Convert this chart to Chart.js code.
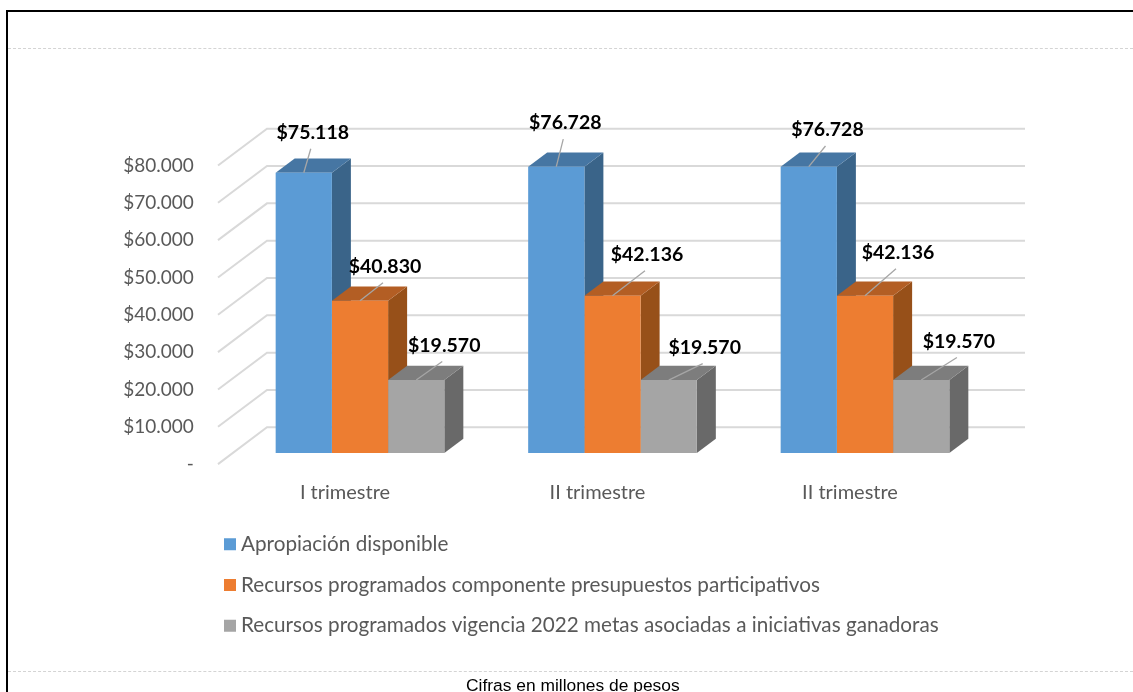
<!DOCTYPE html>
<html lang="es">
<head>
<meta charset="utf-8">
<title>Recursos por trimestre</title>
<script src="https://cdn.jsdelivr.net/npm/chart.js@4/dist/chart.umd.min.js"></script>
<style>
  html, body { margin: 0; padding: 0; background: #fff; overflow: hidden; }
  #page { position: relative; width: 1133px; height: 692px; overflow: hidden; }
  canvas { position: absolute; left: 0; top: 0; }
  .frame-top { position: absolute; left: 6px; right: 0; top: 10px; height: 2px; background: #000; }
  .frame-left { position: absolute; left: 6px; top: 10px; bottom: 0; width: 2px; background: #000; }
  .dash { position: absolute; left: 8px; right: 0; height: 0; border-top: 1px dashed #d4d4d4; }
  .note { position: absolute; left: 466px; top: 675px; white-space: nowrap;
          font: 17.4px "Liberation Sans", Arial, sans-serif; color: #000; }
</style>
</head>
<body>
<div id="page">
  <canvas id="chart" width="1133" height="692"></canvas>
  <div class="frame-top"></div>
  <div class="frame-left"></div>
  <div class="dash" style="top:48px"></div>
  <div class="dash" style="top:671px"></div>
  <div class="note">Cifras en millones de pesos</div>
</div>
<script>
const categories = ['I trimestre', 'II trimestre', 'II trimestre'];
const apropiacion = [75118, 76728, 76728];
const presupuestos = [40830, 42136, 42136];
const vigencia = [19570, 19570, 19570];
const yTickLabels = ['-', '$10.000', '$20.000', '$30.000', '$40.000', '$50.000', '$60.000', '$70.000', '$80.000'];
const valueLabels = [
  ['$75.118', '$76.728', '$76.728'],
  ['$40.830', '$42.136', '$42.136'],
  ['$19.570', '$19.570', '$19.570']
];

// donde queda cada etiqueta respecto al centro superior de su barra
const labelOffsets = [
  [[9, -40], [9, -43.5], [18.7, -36.7]],
  [[25, -34], [34.5, -41], [33, -43]],
  [[28, -34.5], [36, -32.5], [37.7, -38.5]]
];

const FONT = 'Lato, Carlito, Calibri, sans-serif';
const DEPTH_X = 19, DEPTH_Y = 14.3;
const LEGEND_LEFT = 209.35;

// Caras laterales y superiores de las barras (falso 3D).
// Se pintan antes que los frentes y de izquierda a derecha para que se tapen bien.
const bars3d = {
  id: 'bars3d',
  beforeDatasetsDraw(chart) {
    const ctx = chart.ctx;
    chart.data.datasets.forEach((ds, i) => {
      chart.getDatasetMeta(i).data.forEach(bar => {
        const l = bar.x - bar.width / 2, r = bar.x + bar.width / 2;
        const t = bar.y, b = bar.base;
        ctx.fillStyle = ds.sideColor;
        ctx.beginPath();
        ctx.moveTo(r, t);
        ctx.lineTo(r + DEPTH_X, t - DEPTH_Y);
        ctx.lineTo(r + DEPTH_X, b - DEPTH_Y);
        ctx.lineTo(r, b);
        ctx.closePath();
        ctx.fill();
        ctx.fillStyle = ds.topColor;
        ctx.beginPath();
        ctx.moveTo(l, t);
        ctx.lineTo(l + DEPTH_X, t - DEPTH_Y);
        ctx.lineTo(r + DEPTH_X, t - DEPTH_Y);
        ctx.lineTo(r, t);
        ctx.closePath();
        ctx.fill();
      });
    });
  }
};

// Rejilla de pared + piso inclinado
const wallGrid = {
  id: 'wallGrid',
  // la leyenda va debajo del gráfico, no pegada al margen del eje
  afterLayout(chart) {
    chart.legend.left = LEGEND_LEFT;
  },
  beforeDatasetsDraw(chart) {
    const ctx = chart.ctx, y = chart.scales.y, area = chart.chartArea;
    ctx.save();
    ctx.strokeStyle = '#d9d9d9';
    ctx.lineWidth = 2;
    y.ticks.forEach(tick => {
      const py = y.getPixelForValue(tick.value);
      ctx.beginPath();
      ctx.moveTo(area.left - 15.75, py + 11);
      ctx.lineTo(area.left + 33.25, py - 25.8);
      ctx.lineTo(area.right + 33.75, py - 25.8);
      ctx.stroke();
    });
    ctx.restore();
  }
};

// Etiquetas de valor con su línea guía
const valueTags = {
  id: 'valueTags',
  afterDatasetsDraw(chart) {
    const ctx = chart.ctx;
    ctx.save();
    ctx.font = 'bold 19.5px ' + FONT;
    ctx.textAlign = 'center';
    ctx.textBaseline = 'middle';
    chart.data.datasets.forEach((ds, i) => {
      chart.getDatasetMeta(i).data.forEach((bar, j) => {
        const [dx, dy] = labelOffsets[i][j];
        const tx = bar.x + dx, ty = bar.y + dy;
        ctx.strokeStyle = '#a6a6a6';
        ctx.lineWidth = 1.3;
        ctx.beginPath();
        ctx.moveTo(bar.x, bar.y);
        ctx.lineTo(tx - 2, ty + 16);
        ctx.stroke();
        ctx.fillStyle = '#000';
        ctx.fillText(valueLabels[i][j], tx, ty);
      });
    });
    ctx.restore();
  }
};

new Chart(document.getElementById('chart'), {
  type: 'bar',
  data: {
    labels: categories,
    datasets: [
      { label: 'Apropiación disponible', data: apropiacion, backgroundColor: '#5b9bd5', sideColor: '#3a6489', topColor: '#4676a3' },
      { label: 'Recursos programados componente presupuestos participativos', data: presupuestos, backgroundColor: '#ed7d31', sideColor: '#975019', topColor: '#b35e24' },
      { label: 'Recursos programados vigencia 2022 metas asociadas a iniciativas ganadoras', data: vigencia, backgroundColor: '#a5a5a5', sideColor: '#696969', topColor: '#7d7d7d' }
    ]
  },
  plugins: [wallGrid, bars3d, valueTags],
  options: {
    responsive: false,
    animation: false,
    categoryPercentage: 0.668,
    barPercentage: 1,
    layout: { padding: { left: 124, right: 141.75, top: 154.5, bottom: 46 } },
    plugins: {
      tooltip: { enabled: false },
      legend: {
        position: 'bottom',
        align: 'start',
        labels: {
          font: { family: FONT, size: 20.7 },
          color: '#595959',
          padding: 20,
          boxWidth: 1.3,
          boxHeight: 1.3,
          // cuadro de 12px con el borde, el texto queda pegado como en el original
          generateLabels(chart) {
            return Chart.defaults.plugins.legend.labels.generateLabels(chart).map(item => {
              item.strokeStyle = item.fillStyle;
              item.lineWidth = 10.7;
              return item;
            });
          }
        }
      }
    },
    scales: {
      x: {
        grid: { display: false },
        border: { display: false },
        afterFit(scale) { scale.height = 60.8; },
        ticks: {
          labelOffset: -15,
          padding: 19,
          color: '#595959',
          font: { family: FONT, size: 20 }
        }
      },
      y: {
        min: 0,
        max: 80000,
        grid: { display: false },
        border: { display: false },
        afterFit(scale) { scale.width = 109.75; },
        ticks: {
          stepSize: 10000,
          autoSkip: false,
          padding: 32,
          color: '#595959',
          font: { family: FONT, size: 19, lineHeight: '22px' },
          // la línea vacía baja el texto al frente del piso
          callback(value) { return ['', yTickLabels[value / 10000]]; }
        }
      }
    }
  }
});
</script>
</body>
</html>
